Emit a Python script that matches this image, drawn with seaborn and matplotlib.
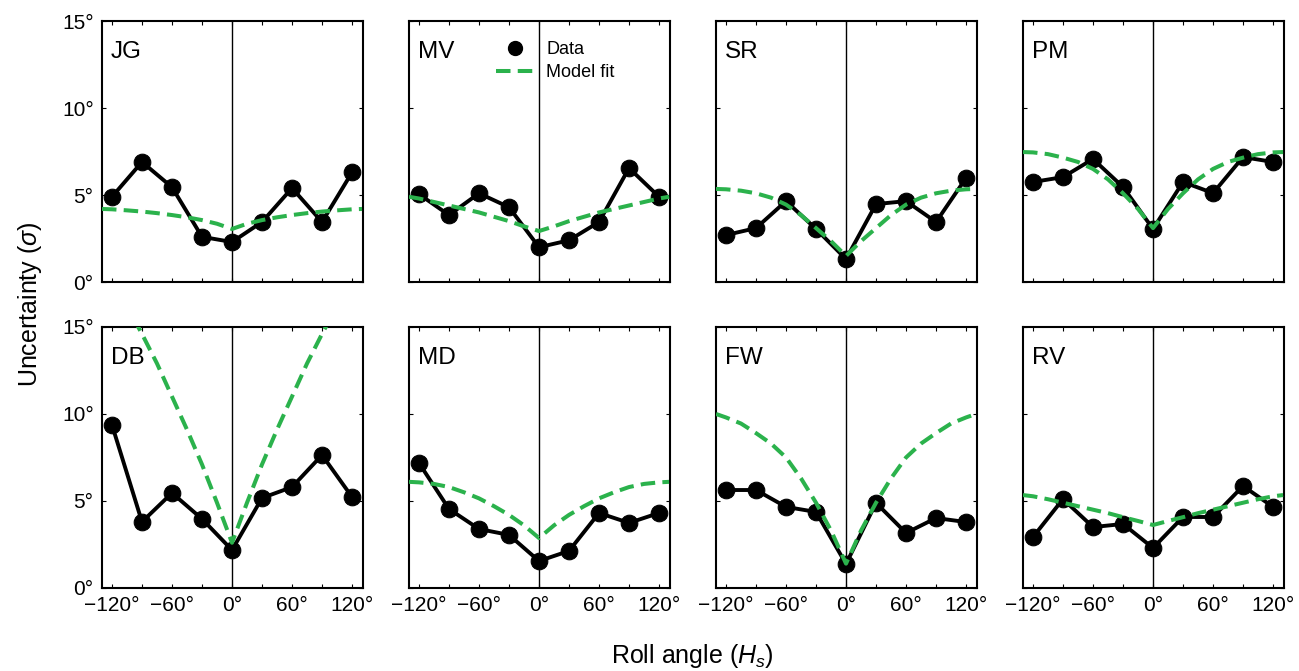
import seaborn as sns
import matplotlib.pyplot as plt
from matplotlib.lines import Line2D
import numpy as np

# ---------------------------
# 1. Data
# ---------------------------
angles = [-120, -90, -60, -30, 0, 30, 60, 90, 120]
tick_labels = ["\u2212120\u00b0", "", "\u221260\u00b0", "", "0\u00b0", "", "60\u00b0", "", "120\u00b0"]

# measured uncertainty per subject
jg = [4.9, 6.9, 5.45, 2.6, 2.3, 3.45, 5.4, 3.45, 6.3]
mv = [5.05, 3.85, 5.1, 4.3, 2.0, 2.4, 3.45, 6.55, 4.9]
sr = [2.7, 3.1, 4.65, 3.05, 1.32, 4.48, 4.65, 3.45, 5.98]
pm = [5.75, 6.03, 7.07, 5.46, 3.05, 5.75, 5.11, 7.18, 6.9]
db = [9.37, 3.8, 5.46, 3.97, 2.18, 5.17, 5.8, 7.64, 5.23]
md = [7.18, 4.54, 3.39, 3.05, 1.55, 2.13, 4.31, 3.74, 4.31]
fw = [5.63, 5.63, 4.66, 4.37, 1.38, 4.89, 3.16, 4.02, 3.79]
rv = [2.93, 5.11, 3.5, 3.68, 2.3, 4.08, 4.08, 5.86, 4.66]

# model fit (symmetric), sampled at |angle|
fit_half_x = [0, 15, 30, 45, 60, 75, 90, 105, 120, 130]
jg_fit = [3.05, 3.35, 3.56, 3.72, 3.85, 3.96, 4.05, 4.12, 4.18, 4.2]
mv_fit = [2.93, 3.2, 3.5, 3.75, 4.0, 4.2, 4.4, 4.6, 4.8, 4.9]
sr_fit = [1.5, 2.35, 3.1, 3.85, 4.45, 4.85, 5.1, 5.25, 5.33, 5.35]
pm_fit = [3.1, 4.2, 5.1, 5.9, 6.5, 6.9, 7.15, 7.35, 7.45, 7.47]
db_fit = [2.6, 4.9, 7.1, 9.1, 11.0, 12.9, 14.6, 16.2, 17.8, 18.8]
md_fit = [2.87, 3.6, 4.2, 4.7, 5.15, 5.5, 5.8, 5.98, 6.07, 6.1]
fw_fit = [1.4, 3.3, 4.9, 6.3, 7.5, 8.3, 8.9, 9.45, 9.8, 10.0]
rv_fit = [3.62, 3.85, 4.07, 4.3, 4.5, 4.7, 4.9, 5.1, 5.27, 5.34]

panels = [("JG", jg, jg_fit), ("MV", mv, mv_fit), ("SR", sr, sr_fit), ("PM", pm, pm_fit),
          ("DB", db, db_fit), ("MD", md, md_fit), ("FW", fw, fw_fit), ("RV", rv, rv_fit)]

fit_x = [-v for v in fit_half_x[::-1]] + fit_half_x[1:]

def mirror(half):
    return half[::-1] + half[1:]

# ---------------------------
# 2. Styling
# ---------------------------
sns.set_style("ticks")
plt.rcParams["font.family"] = ["Liberation Sans", "DejaVu Sans"]
plt.rcParams["mathtext.fontset"] = "custom"
plt.rcParams["mathtext.rm"] = "Liberation Sans"
plt.rcParams["mathtext.it"] = "Liberation Sans:italic"
plt.rcParams["text.color"] = "black"
plt.rcParams["xtick.color"] = "black"
plt.rcParams["ytick.color"] = "black"
plt.rcParams["axes.edgecolor"] = "black"

green = "#2bb24c"
fit_dash = (3.6, 1.8)

fig, axes = plt.subplots(2, 4, figsize=(12.99, 6.71), dpi=100, sharex=True, sharey=True)
fig.subplots_adjust(left=0.0785, right=0.9885, top=0.9687, bottom=0.1237,
                    wspace=0.176, hspace=0.172)

# ---------------------------
# 3. Panels
# ---------------------------
for ax, (name, vals, fit) in zip(axes.flat, panels):
    ax.axvline(0, color="black", lw=1.0, zorder=1)
    sns.lineplot(x=angles, y=vals, ax=ax, color="black", lw=2.8, marker="o",
                 markersize=12, markeredgecolor="black", zorder=3)
    sns.lineplot(x=fit_x, y=mirror(fit), ax=ax, color=green, lw=2.9,
                 dashes=False, zorder=4)
    ax.lines[-1].set_dashes(fit_dash)
    ax.set_xlim(-130, 131)
    ax.set_ylim(0, 15)
    ax.set_xticks(angles)
    ax.set_xticklabels(tick_labels)
    ax.set_yticks([0, 5, 10, 15])
    ax.set_yticklabels(["0\u00b0", "5\u00b0", "10\u00b0", "15\u00b0"])
    ax.tick_params(direction="in", length=3, width=0.8, top=True, right=True,
                   labelsize=15, pad=6, labelcolor="black")
    for sp in ax.spines.values():
        sp.set_linewidth(1.5)
    ax.text(0.035, 0.925, name, transform=ax.transAxes, fontsize=17.5,
            va="top", ha="left")
    ax.set_xlabel("")
    ax.set_ylabel("")

# legend in MV panel
handles = [Line2D([], [], marker="o", ls="none", color="black", markersize=10),
           Line2D([], [], color=green, lw=2.9, dashes=fit_dash)]
axes[0, 1].legend(handles, ["Data", "Model fit"], loc="upper left",
                  bbox_to_anchor=(0.27, 0.985), frameon=False, fontsize=13,
                  handlelength=2.1, handletextpad=0.7, labelspacing=0.35)

# ---------------------------
# 4. Axis labels
# ---------------------------
fig.text(0.023, 0.547, "Uncertainty ($\\sigma$)", rotation=90, fontsize=18,
         ha="center", va="center")
fig.text(0.533, 0.022, "Roll angle ($H_s$)", fontsize=18, ha="center", va="center")

plt.savefig("out.png", dpi=100)
plt.close()
